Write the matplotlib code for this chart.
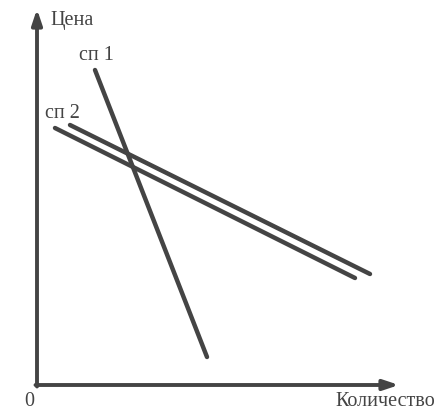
import matplotlib
matplotlib.use("Agg")
import matplotlib.pyplot as plt

# Data (quantity, price) in chart units, origin at axis corner
sp1_q = [58, 170]
sp1_p = [315, 28]
sp2a_q = [18, 318]
sp2a_p = [257, 107]
sp2b_q = [33, 333]
sp2b_p = [260, 111]
labels = ["сп 1", "сп 2"]

col = "#444444"
fig = plt.figure(figsize=(4.4, 4.12), dpi=100)
ax = fig.add_axes([0, 0, 1, 1])
ax.set_xlim(-37, 403)
ax.set_ylim(-27, 385)
ax.axis("off")
plt.rcParams['font.family'] = ['Liberation Serif', 'DejaVu Serif']

# axes arrows
ax.annotate("", xy=(362, 0), xytext=(-1.5, 0),
            arrowprops=dict(arrowstyle="-|>,head_length=0.9,head_width=0.3",
                            color=col, lw=2.8, shrinkA=0, shrinkB=0))
ax.annotate("", xy=(0, 376), xytext=(0, -1.5),
            arrowprops=dict(arrowstyle="-|>,head_length=0.9,head_width=0.3",
                            color=col, lw=2.8, shrinkA=0, shrinkB=0))

for q, p in [(sp1_q, sp1_p), (sp2a_q, sp2a_p), (sp2b_q, sp2b_p)]:
    ax.plot(q, p, color=col, lw=3.2, solid_capstyle="round")

fs = 14.5
ax.text(13, 365, "Цена", fontsize=fs, color=col, ha="left", va="center")
ax.text(-8, -16, "0", fontsize=fs, color=col, ha="center", va="center")
ax.text(398, -17, "Количество", fontsize=fs, color=col, ha="right", va="center")
ax.text(sp1_q[0] + 1, sp1_p[0] + 15, labels[0], fontsize=fs, color=col, ha="center", va="center")
ax.text(sp2a_q[0] + 7, sp2a_p[0] + 15, labels[1], fontsize=fs, color=col, ha="center", va="center")

fig.savefig("out.png", dpi=100)
